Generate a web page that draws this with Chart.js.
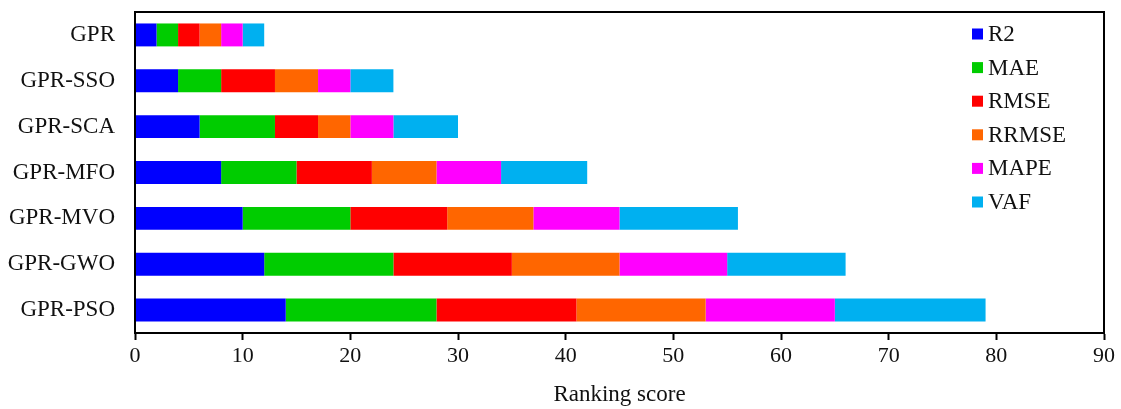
<!DOCTYPE html>
<html>
<head>
<meta charset="utf-8">
<script src="https://cdn.jsdelivr.net/npm/chart.js@4.4.1/dist/chart.umd.min.js"></script>
<style>
  html, body { margin: 0; padding: 0; background: #fff; }
  #wrap { width: 1121px; height: 409px; }
</style>
</head>
<body>
<div id="wrap"><canvas id="c" width="1121" height="409"></canvas></div>
<script>
// Models ranked, top to bottom
const models = ['GPR', 'GPR-SSO', 'GPR-SCA', 'GPR-MFO', 'GPR-MVO', 'GPR-GWO', 'GPR-PSO'];

// Ranking score contributed by each metric
const r2    = [2, 4, 6, 8, 10, 12, 14];
const mae   = [2, 4, 7, 7, 10, 12, 14];
const rmse  = [2, 5, 4, 7, 9, 11, 13];
const rrmse = [2, 4, 3, 6, 8, 10, 12];
const mape  = [2, 3, 4, 6, 8, 10, 12];
const vaf   = [2, 4, 6, 8, 11, 11, 14];

const metricNames = ['R2', 'MAE', 'RMSE', 'RRMSE', 'MAPE', 'VAF'];
const metricColors = ['#0000FF', '#00CC00', '#FF0000', '#FF6600', '#FF00FF', '#00B0F0'];
const xTicks = [0, 10, 20, 30, 40, 50, 60, 70, 80, 90];

const FONT = '"Liberation Serif", "Times New Roman", serif';

const datasets = [r2, mae, rmse, rrmse, mape, vaf].map((vals, i) => ({
  label: metricNames[i],
  data: vals,
  backgroundColor: metricColors[i],
  borderWidth: 0,
  categoryPercentage: 1.0,
  barPercentage: 0.5
}));

// Black frame around the plotting area
const framePlugin = {
  id: 'frame',
  afterDraw(chart) {
    const { ctx, chartArea: a } = chart;
    ctx.save();
    ctx.strokeStyle = '#000';
    ctx.lineWidth = 2;
    ctx.strokeRect(a.left, a.top, a.right - a.left, a.bottom - a.top);
    ctx.restore();
  }
};

// Vertical legend inside the upper right of the plot
const legendPlugin = {
  id: 'sideLegend',
  afterDraw(chart) {
    const { ctx } = chart;
    const x = 972, y0 = 34, step = 33.6, box = 11;
    ctx.save();
    ctx.font = '23px ' + FONT;
    ctx.textBaseline = 'middle';
    ctx.textAlign = 'left';
    chart.data.datasets.forEach((ds, i) => {
      const y = y0 + i * step;
      ctx.fillStyle = ds.backgroundColor;
      ctx.fillRect(x, y - box / 2, box, box);
      ctx.fillStyle = '#111';
      ctx.fillText(ds.label, x + 16, y + 1);
    });
    ctx.restore();
  }
};

new Chart(document.getElementById('c'), {
  type: 'bar',
  data: { labels: models, datasets },
  options: {
    indexAxis: 'y',
    responsive: false,
    animation: false,
    layout: { padding: { top: 12, right: 17, left: 0, bottom: 0 } },
    plugins: {
      legend: { display: false },
      tooltip: { enabled: false }
    },
    scales: {
      x: {
        stacked: true,
        min: 0,
        max: 90,
        afterBuildTicks(scale) { scale.ticks = xTicks.map(v => ({ value: v })); },
        afterFit(scale) {
          scale.height = 76;
          scale.paddingLeft = 0;
          scale.paddingRight = 0;
        },
        grid: {
          display: true,
          drawOnChartArea: false,
          drawTicks: true,
          tickLength: 7,
          tickWidth: 2,
          tickColor: '#000'
        },
        border: { display: true, color: '#000', width: 2 },
        ticks: {
          color: '#111',
          padding: 3,
          maxRotation: 0,
          font: { family: FONT, size: 22 }
        },
        title: {
          display: true,
          text: 'Ranking score',
          color: '#111',
          padding: { top: 2, bottom: 0 },
          font: { family: FONT, size: 23 }
        }
      },
      y: {
        stacked: true,
        afterFit(scale) {
          scale.width = 135;
          scale.paddingTop = 0;
          scale.paddingBottom = 0;
        },
        grid: { display: false, drawTicks: false },
        border: { display: true, color: '#000', width: 2 },
        ticks: {
          color: '#111',
          padding: 20,
          font: { family: FONT, size: 23 }
        }
      }
    }
  },
  plugins: [framePlugin, legendPlugin]
});
</script>
</body>
</html>
